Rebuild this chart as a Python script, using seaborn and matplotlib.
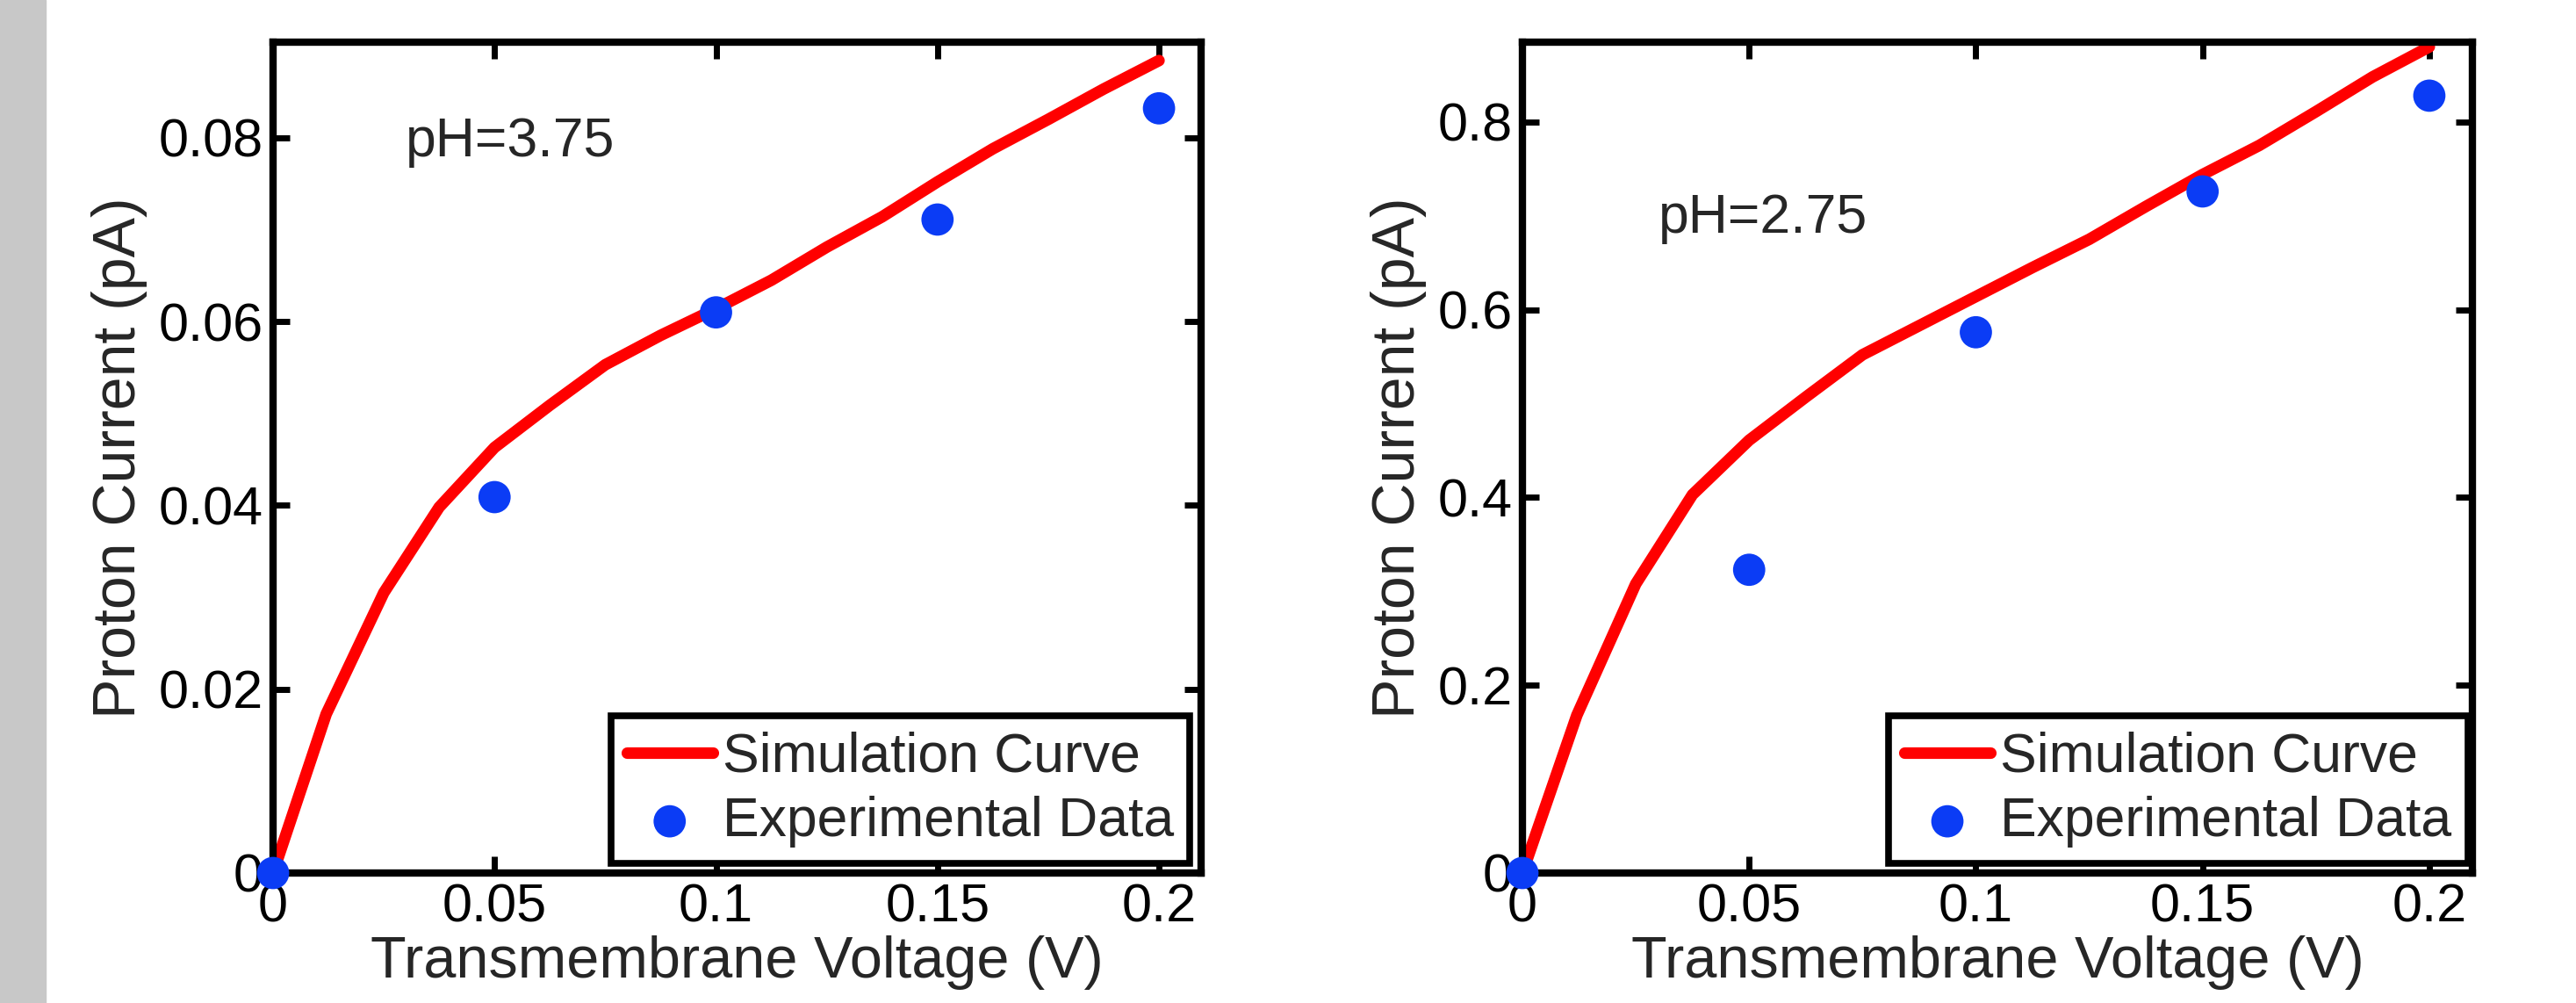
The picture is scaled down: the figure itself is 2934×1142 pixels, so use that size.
import seaborn as sns
import matplotlib.pyplot as plt
from matplotlib.patches import Rectangle
from matplotlib.collections import PathCollection

# experimental points
volt_exp = [0.0, 0.05, 0.1, 0.15, 0.2]
cur_exp_375 = [0.0, 0.0409, 0.0610, 0.0711, 0.0832]
cur_exp_275 = [0.0, 0.323, 0.576, 0.726, 0.828]

# simulation curves
volt_sim = [0.0, 0.012, 0.025, 0.0375, 0.05, 0.0625, 0.075, 0.0875, 0.1, 0.1125,
            0.125, 0.1375, 0.15, 0.1625, 0.175, 0.1875, 0.2]
cur_sim_375 = [0.0, 0.0173, 0.0305, 0.0398, 0.0463, 0.0509, 0.0553, 0.0585, 0.0614, 0.0645,
               0.0681, 0.0714, 0.0752, 0.0788, 0.0820, 0.0853, 0.0884]
cur_sim_275 = [0.0, 0.168, 0.308, 0.403, 0.461, 0.507, 0.552, 0.583, 0.614, 0.645,
               0.675, 0.710, 0.744, 0.775, 0.811, 0.848, 0.880]

panels = [
    {'sim': cur_sim_375, 'exp': cur_exp_375, 'ylim': 0.0904, 'yticks': [0, 0.02, 0.04, 0.06, 0.08],
     'yticklabels': ['0', '0.02', '0.04', '0.06', '0.08'], 'ph': 'pH=3.75', 'ph_xy': (0.030, 0.078),
     'rect': [311/2934, 148/1142, 1057/2934, 946/1142], 'leg_x': 0.988},
    {'sim': cur_sim_275, 'exp': cur_exp_275, 'ylim': 0.885, 'yticks': [0, 0.2, 0.4, 0.6, 0.8],
     'yticklabels': ['0', '0.2', '0.4', '0.6', '0.8'], 'ph': 'pH=2.75', 'ph_xy': (0.030, 0.682),
     'rect': [1734/2934, 148/1142, 1082/2934, 946/1142], 'leg_x': 0.995},
]
xticks = [0, 0.05, 0.1, 0.15, 0.2]
xticklabels = ['0', '0.05', '0.1', '0.15', '0.2']

sns.set_style('white')
plt.rcParams['font.family'] = ['Liberation Sans', 'DejaVu Sans']

fig = plt.figure(figsize=(29.34, 11.42), dpi=100)
fig.patches.append(Rectangle((0, 0), 52/2934, 1, transform=fig.transFigure, color='#c8c8c8', zorder=0))

for p in panels:
    ax = fig.add_axes(p['rect'])
    sns.lineplot(x=volt_sim, y=p['sim'], ax=ax, color='#ff0000', lw=9.5, label='Simulation Curve', zorder=2)
    sns.scatterplot(x=volt_exp, y=p['exp'], ax=ax, color='#0b3cf5', s=700, edgecolor='none',
                    label='Experimental Data', clip_on=False, zorder=3)
    ax.set_xlim(0, 0.2095)
    ax.set_ylim(0, p['ylim'])
    ax.set_xticks(xticks)
    ax.set_xticklabels(xticklabels)
    ax.set_yticks(p['yticks'])
    ax.set_yticklabels(p['yticklabels'])
    ax.tick_params(direction='in', length=14, width=5, labelsize=44, top=True, right=True,
                   bottom=True, left=True, colors='black', pad=8)
    for s in ax.spines.values():
        s.set_linewidth(6)
        s.set_color('black')
        s.set_visible(True)
    ax.set_xlabel('Transmembrane Voltage (V)', fontsize=48, labelpad=2)
    ax.set_ylabel('Proton Current (pA)', fontsize=49, labelpad=9)
    ax.text(p['ph_xy'][0], p['ph_xy'][1], p['ph'], fontsize=45, ha='left', va='baseline')
    leg = ax.legend(loc='lower right', bbox_to_anchor=(p['leg_x'], 0.012), borderaxespad=0, fontsize=45,
                    frameon=True, fancybox=False, framealpha=1, edgecolor='black', handlelength=1.57,
                    handletextpad=0.18, labelspacing=0.22, borderpad=0.29)
    leg.get_frame().set_linewidth(5.5)
    for h in leg.legend_handles:
        if isinstance(h, PathCollection):
            h.set_sizes([700])

fig.savefig('out.png', dpi=100)
